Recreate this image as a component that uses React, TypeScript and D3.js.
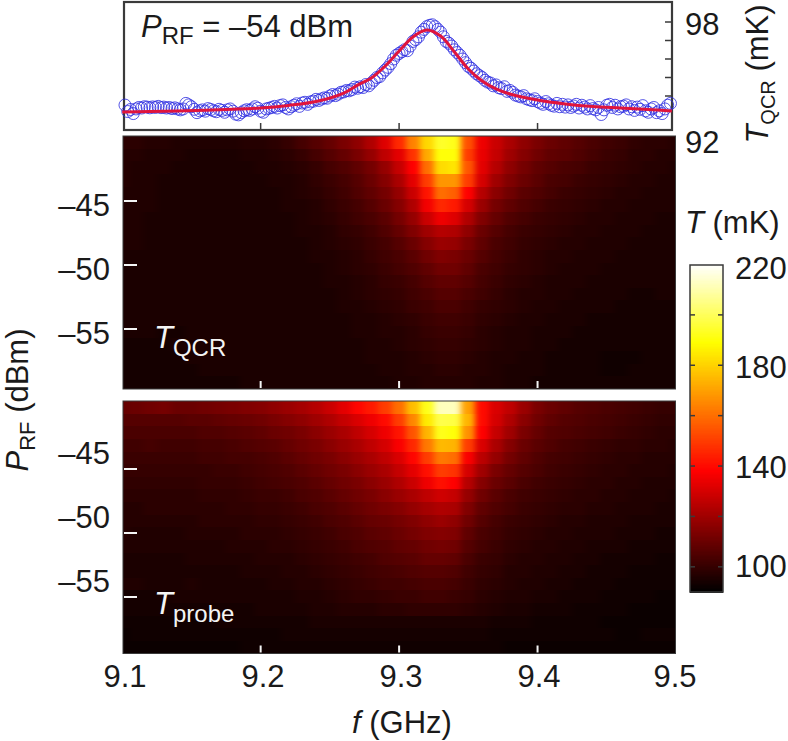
import * as d3 from "d3";

// frequency axis
const freqTicks = [9.1, 9.2, 9.3, 9.4, 9.5];
const freqLabelX = [125, 263, 401, 539, 675];
const heatFreqs = d3.range(0, 41).map((i) => 9.1 + i * 0.01);
const powers = d3.range(0, 20).map((i) => -40 - i);
const powerTicks = [-45, -50, -55];

// top panel, mK
const pointT = [
    93.51, 93.16, 93.27, 93.05, 93.3, 93.38, 93.35, 93.42, 93.4, 93.36,
    93.41, 93.38, 93.44, 93.37, 93.4, 93.35, 93.38, 93.32, 93.36, 93.3,
    93.25, 93.3, 93.6, 93.52, 93.42, 93.28, 93.1, 93.2, 93.25, 93.18,
    93.32, 93.27, 93.2, 93.15, 93.28, 93.22, 93.12, 93.25, 93.3, 93.18,
    93.02, 92.98, 93.1, 93.2, 93.26, 93.22, 93.3, 93.42, 93.34, 93.18,
    93.12, 93.3, 93.34, 93.38, 93.44, 93.35, 93.48, 93.52, 93.38, 93.3,
    93.42, 93.5, 93.58, 93.44, 93.62, 93.66, 93.55, 93.68, 93.72, 93.82,
    93.76, 93.84, 93.9, 93.88, 94.0, 94.08, 94.02, 94.1, 94.2, 94.22,
    94.3, 94.28, 94.35, 94.48, 94.42, 94.5, 94.46, 94.62, 94.55, 94.7,
    94.85, 95.0, 95.05, 95.25, 95.4, 95.55, 95.75, 96.0, 96.2, 96.3,
    96.4, 96.5, 96.45, 96.7, 96.95, 97.05, 97.2, 97.45, 97.6, 97.75,
    97.82, 97.85, 97.75, 97.6, 97.45, 97.2, 96.95, 96.85, 96.7, 96.5,
    96.35, 96.2, 96.0, 95.8, 95.6, 95.5, 95.35, 95.2, 95.1, 95.0,
    94.85, 94.75, 94.7, 94.55, 94.6, 94.45, 94.4, 94.5, 94.25, 94.3,
    94.2, 94.05, 94.0, 93.95, 94.02, 93.85, 93.8, 93.75, 93.85, 93.7,
    93.62, 93.55, 93.7, 93.58, 93.5, 93.45, 93.6, 93.42, 93.55, 93.4,
    93.52, 93.38, 93.46, 93.55, 93.35, 93.5, 93.4, 93.3, 93.48, 93.32,
    93.25, 93.38, 93.0, 93.25, 93.5, 93.55, 93.38, 93.5, 93.3, 93.42,
    93.45, 93.52, 93.3, 93.42, 93.22, 93.4, 93.28, 93.48, 93.2, 93.12,
    93.3, 93.38, 93.1, 93.2, 93.05, 93.3, 93.5, 93.6,
];
const fitF = [
    9.1, 9.12, 9.14, 9.16, 9.18, 9.2, 9.22, 9.24, 9.26, 9.27, 9.28, 9.29, 9.3,
    9.31, 9.32, 9.33, 9.34, 9.35, 9.36, 9.37, 9.38, 9.4, 9.42, 9.44, 9.46, 9.48, 9.497,
];
const fitT = [
    93.14, 93.16, 93.19, 93.23, 93.28, 93.35, 93.49, 93.7, 94.16, 94.59, 94.97, 95.62, 96.43,
    97.19, 97.57, 97.24, 96.38, 95.46, 94.81, 94.38, 94.11, 93.78, 93.57, 93.43, 93.35, 93.27, 93.19,
];

// T map, QCR, one row per dBm step
const qcrRows = [
    [98,98,97,97,96,96,96,96,96,97,97,98,100,103,106,109,113,117,123,132,146,164,181,194,192,154,135,128,122,117,113,110,108,106,104,102,101,99,98,98,97],
    [97,97,96,96,96,95,95,95,95,96,96,97,98,100,103,106,109,113,118,126,133,148,172,190,190,150,134,127,120,115,111,108,107,105,103,101,100,98,98,97,97],
    [97,96,96,96,95,95,95,95,95,95,96,96,97,98,100,103,105,108,112,118,127,138,160,182,184,155,133,124,117,112,108,106,104,103,101,100,99,98,97,97,96],
    [97,96,96,95,95,95,95,95,95,95,95,96,96,97,99,101,103,106,110,115,122,133,150,168,168,150,130,120,114,110,107,104,103,101,100,99,98,97,97,96,96],
    [96,96,96,95,95,95,95,95,95,95,95,95,96,97,98,100,102,105,108,112,118,128,142,160,157,138,124,116,111,107,105,103,101,100,99,98,97,97,96,96,96],
    [96,96,96,95,95,95,95,95,95,95,95,95,96,96,97,99,101,103,106,110,115,123,136,146,143,130,119,112,108,105,103,101,100,99,98,97,97,96,96,96,96],
    [96,96,95,95,95,95,95,95,95,95,95,95,95,96,97,98,100,102,104,107,112,118,128,135,132,123,114,109,105,103,101,100,99,98,97,97,96,96,96,95,95],
    [96,96,95,95,95,95,95,95,95,95,95,95,95,96,96,97,99,100,102,105,109,114,120,124,123,117,110,106,103,101,100,99,98,97,97,96,96,96,95,95,95],
    [96,96,95,95,95,95,95,95,95,95,95,95,95,95,96,97,98,99,101,103,106,110,115,119,118,113,108,104,102,100,99,98,97,97,96,96,96,95,95,95,95],
    [95,95,95,95,95,95,95,95,95,95,95,95,95,95,96,96,97,98,100,102,104,107,111,114,113,110,106,103,101,99,98,97,97,96,96,96,95,95,95,95,95],
    [95,95,95,95,95,95,95,95,95,95,95,95,95,95,95,96,97,98,99,101,103,105,108,111,111,108,104,102,100,99,98,97,96,96,96,95,95,95,95,95,95],
    [95,95,95,95,95,95,95,95,95,95,95,95,95,95,95,96,96,97,98,100,101,103,106,108,108,106,103,101,99,98,97,96,96,96,95,95,95,95,95,95,95],
    [95,95,95,95,95,95,95,95,95,95,95,95,95,95,95,95,96,97,98,99,100,102,104,106,106,104,102,100,98,97,97,96,96,95,95,95,95,94,94,95,95],
    [95,95,95,95,95,95,95,95,95,95,95,95,95,95,95,95,96,96,97,98,99,101,102,104,104,102,100,99,98,97,96,96,95,95,95,95,94,94,94,94,94],
    [95,95,95,95,95,95,95,95,95,95,95,95,95,95,95,95,95,96,96,97,98,99,101,102,102,101,99,98,97,96,96,95,95,95,94,94,94,94,94,94,94],
    [95,95,95,94,94,95,95,95,95,95,95,95,95,95,95,95,95,96,96,97,97,98,100,101,101,100,98,97,96,96,95,95,95,94,94,94,94,94,94,94,94],
    [94,94,94,94,95,95,95,95,95,95,95,95,95,95,95,95,95,95,96,96,97,98,99,100,100,99,98,97,96,96,95,95,94,94,94,94,94,94,94,94,94],
    [94,94,94,94,94,95,95,95,95,95,95,95,95,95,95,95,95,95,96,96,96,97,98,99,99,98,97,96,96,95,95,94,94,94,94,93,93,93,94,94,94],
    [94,94,94,94,94,94,95,95,95,95,95,95,95,95,95,95,95,95,95,96,96,97,97,98,98,97,97,96,95,95,95,94,94,94,94,93,93,94,94,94,94],
    [94,94,94,94,94,94,94,94,94,95,95,95,95,95,95,95,95,95,95,95,96,96,97,97,97,97,96,96,95,95,94,94,94,94,94,94,94,94,94,94,94],
];

// T map, probe
const probeRows = [
    [109,110,111,112,110,110,111,112,113,114,115,117,119,121,124,128,133,139,143,150,160,176,192,212,212,170,140,131,126,119,113,110,108,106,105,104,103,102,101,100,100],
    [106,106,106,106,106,107,107,108,109,110,111,113,115,117,120,123,127,131,135,140,150,165,185,198,197,174,140,130,123,116,111,108,106,105,104,103,102,101,100,99,99],
    [104,104,104,104,104,104,105,105,106,107,108,110,111,113,116,119,122,126,130,135,142,155,174,192,190,167,138,127,120,113,109,106,105,104,103,102,101,100,99,98,98],
    [102,102,103,102,102,102,103,103,104,105,106,107,109,111,113,116,119,122,126,130,137,146,162,175,174,150,131,122,115,110,107,105,103,102,101,100,99,99,98,98,97],
    [101,101,101,101,101,101,102,102,103,103,104,105,107,109,111,113,116,119,122,126,131,139,150,162,160,137,125,118,112,108,105,103,102,101,100,99,98,98,97,97,97],
    [100,100,100,100,100,100,100,101,101,102,103,104,105,107,109,111,113,116,119,122,127,133,141,150,148,130,120,113,109,106,104,102,101,100,99,98,98,97,97,97,96],
    [99,99,99,99,99,99,100,100,100,101,102,103,104,105,107,109,111,113,116,119,123,128,135,141,138,124,115,110,107,104,102,101,100,99,98,98,97,97,96,96,96],
    [98,98,98,98,98,98,99,99,99,100,101,101,102,104,105,107,109,111,113,116,119,122,126,129,127,118,111,107,104,102,101,100,99,98,98,97,97,96,96,96,95],
    [97,97,98,98,98,98,98,98,99,99,100,100,101,102,104,105,107,109,111,113,115,118,121,123,122,114,108,105,103,101,100,99,98,98,97,97,96,96,96,95,95],
    [97,97,97,97,97,97,98,98,98,98,99,99,100,101,102,104,105,107,109,110,112,114,117,119,117,111,106,103,101,100,99,98,97,97,96,96,96,95,95,95,95],
    [97,96,96,96,96,97,97,97,97,98,98,98,99,100,101,102,104,105,107,108,110,112,114,115,114,108,104,102,100,99,98,97,97,96,96,96,95,95,95,94,94],
    [96,96,96,96,96,96,96,96,97,97,97,98,98,99,100,101,102,104,105,106,108,109,111,112,111,106,103,101,99,98,97,97,96,96,95,95,95,94,94,94,94],
    [95,95,95,95,95,96,96,96,96,96,97,97,97,98,99,100,101,102,103,105,106,107,109,109,108,104,101,100,98,97,97,96,96,95,95,94,94,94,94,93,93],
    [95,95,95,95,95,95,95,95,95,96,96,96,97,97,98,99,100,101,102,103,104,105,106,106,105,102,100,99,97,97,96,96,95,95,94,94,94,93,93,93,93],
    [96,96,95,95,95,96,95,95,95,95,95,96,96,97,97,98,99,100,101,102,102,103,104,104,103,101,99,98,97,96,96,95,95,94,94,94,93,93,93,93,93],
    [94,94,94,94,95,95,95,95,95,95,95,95,95,96,96,97,98,99,99,100,101,101,102,102,101,100,98,97,96,96,95,95,94,94,94,93,93,93,93,92,92],
    [94,94,94,94,94,94,94,94,94,94,95,95,95,95,96,96,97,97,97,98,98,99,99,99,99,98,97,96,95,95,94,94,94,93,93,93,93,92,92,92,92],
    [93,93,93,93,93,93,93,94,94,94,94,94,94,94,95,95,95,95,95,95,95,95,95,95,95,95,95,94,94,94,93,93,93,93,93,92,92,92,92,92,92],
    [92,93,93,93,93,93,93,93,93,93,93,93,94,94,94,94,94,94,94,94,94,94,94,94,94,94,94,93,93,93,93,93,93,93,93,93,92,92,93,93,93],
    [92,92,92,92,92,92,92,92,92,93,93,93,93,93,93,93,93,93,93,93,93,93,93,93,93,93,93,93,92,92,92,92,92,92,92,92,92,92,92,92,92],
];

// colour bar
const colorTicks = [100, 120, 140, 160, 180, 200];
const colorLabels = [100, 140, 180, 220];
const colorStops = [90, 138, 189, 220];
const colorValues = ["#000000", "#ff0000", "#ffff00", "#ffffff"];

const FONT = "'Liberation Sans', Arial, sans-serif";
const INK = "#1a1a1a";
const FRAME = "#3a3a3a";
const SIZE = 31;
const SUB = 22;

const x = d3.scaleLinear().domain([9.1, 9.5]).range([122.2, 676]);
const yTop = d3.scaleLinear().domain([92, 98]).range([133, 22]);
const color = d3.scaleLinear<string>().domain(colorStops).range(colorValues).clamp(true);
const barY = d3.scaleLinear().domain([90, 220]).range([592, 264.5]);
const barLabelY = d3.scaleLinear().domain([100, 220]).range([577, 279]);

const fitLine = d3
    .line<number>()
    .x((_, i) => x(fitF[i]))
    .y((d) => yTop(d))
    .curve(d3.curveCatmullRom);

const HeatPanel = ({ id, rows, top, bottom, tickY, labelDy }) => {
    const rowBand = d3.scaleBand<number>().domain(powers).range([top, bottom]);
    const cellW = x(9.11) - x(9.1);
    return (
        <g>
            <clipPath id={id}>
                <rect x={123} y={top} width={552.5} height={bottom - top} />
            </clipPath>
            <g clipPath={`url(#${id})`}>
                <g filter="url(#smear)" shapeRendering="crispEdges">
                    {rows.map((row, r) =>
                        row.map((t, c) => {
                            const pad = r === 0 || r === rows.length - 1 ? 4 : 0;
                            return (
                                <rect
                                    key={`${r}-${c}`}
                                    x={x(heatFreqs[c]) - cellW / 2}
                                    y={rowBand(powers[r]) - (r === 0 ? pad : 0)}
                                    width={cellW + 0.5}
                                    height={rowBand.bandwidth() + 0.5 + pad}
                                    fill={color(t)}
                                />
                            );
                        })
                    )}
                </g>
            </g>
            <rect x={123} y={top} width={552.5} height={bottom - top} fill="none" stroke={FRAME} strokeWidth={1} />
            {powerTicks.map((p) => (
                <line key={p} x1={124} x2={137} y1={tickY(p)} y2={tickY(p)} stroke="#f4f4f4" strokeWidth={2} />
            ))}
            {freqTicks.slice(1, 4).map((f) => (
                <line key={f} x1={x(f)} x2={x(f)} y1={bottom - 8} y2={bottom - 1} stroke="#f4f4f4" strokeWidth={2} />
            ))}
            {powerTicks.map((p) => (
                <text key={p} x={110} y={tickY(p) + labelDy} textAnchor="end" fontSize={SIZE} fill={INK}>
                    {`–${Math.abs(p)}`}
                </text>
            ))}
        </g>
    );
};

const App = () => {
    const yHeat1 = d3.scaleLinear().domain([-40, -60]).range([137, 393]);
    const yHeat2 = d3.scaleLinear().domain([-40, -60]).range([405, 661]);

    return (
        <svg
            width={788}
            height={741}
            style={{ position: "absolute", left: 0, top: 0, background: "#fff" }}
            fontFamily={FONT}
        >
            <defs>
                <filter
                    id="smear"
                    filterUnits="userSpaceOnUse"
                    x={90}
                    y={120}
                    width={620}
                    height={560}
                    colorInterpolationFilters="sRGB"
                >
                    <feGaussianBlur stdDeviation="3.2 0.5" />
                </filter>
            </defs>

            {/* top panel */}
            <rect x={124} y={2} width={548} height={128} fill="none" stroke={FRAME} strokeWidth={2.2} />
            {freqTicks.slice(1, 4).map((f) => (
                <line key={f} x1={x(f)} x2={x(f)} y1={123} y2={130} stroke={FRAME} strokeWidth={1.5} />
            ))}
            {[94, 95, 96, 97, 98].map((t) => (
                <line key={t} x1={665} x2={672} y1={yTop(t)} y2={yTop(t)} stroke={FRAME} strokeWidth={1.5} />
            ))}
            {pointT.map((t, i) => (
                <circle
                    key={i}
                    cx={x(9.102 + i * 0.002)}
                    cy={yTop(t)}
                    r={6}
                    fill="none"
                    stroke="#2a2ae0"
                    strokeWidth={0.8}
                />
            ))}
            <path d={fitLine(fitT) ?? ""} fill="none" stroke="#e0143c" strokeWidth={3} />
            <text x={141} y={37} fontSize={SIZE} fill={INK}>
                <tspan fontStyle="italic">P</tspan>
                <tspan fontSize={SUB + 2} dy={7}>RF</tspan>
                <tspan dy={-7}> = –54 dBm</tspan>
            </text>
            <text x={685} y={35} fontSize={SIZE} fill={INK}>98</text>
            <text x={685} y={153} fontSize={SIZE} fill={INK}>92</text>
            <text transform="translate(768,74) rotate(-90)" textAnchor="middle" fontSize={SIZE} fill={INK}>
                <tspan fontStyle="italic">T</tspan>
                <tspan fontSize={20} dy={7}>QCR</tspan>
                <tspan dy={-7}> (mK)</tspan>
            </text>

            {/* maps */}
            <HeatPanel id="clip-qcr" rows={qcrRows} top={136} bottom={389} tickY={yHeat1} labelDy={15} />
            <HeatPanel id="clip-probe" rows={probeRows} top={401} bottom={653.5} tickY={yHeat2} labelDy={-5} />
            <text x={154} y={348} fontSize={SIZE} fill="#f4f4f4">
                <tspan fontStyle="italic">T</tspan>
                <tspan fontSize={24} dy={8}>QCR</tspan>
            </text>
            <text x={154} y={614} fontSize={SIZE} fill="#f4f4f4">
                <tspan fontStyle="italic">T</tspan>
                <tspan fontSize={24} dy={8}>probe</tspan>
            </text>

            {/* axes text */}
            {freqTicks.map((f, i) => (
                <text key={f} x={freqLabelX[i]} y={687} textAnchor="middle" fontSize={SIZE} fill={INK}>
                    {f.toFixed(1)}
                </text>
            ))}
            <text x={402} y={733} textAnchor="middle" fontSize={SIZE} fill={INK}>
                <tspan fontStyle="italic">f</tspan>
                <tspan> (GHz)</tspan>
            </text>
            <text transform="translate(28,400) rotate(-90)" textAnchor="middle" fontSize={SIZE} fill={INK}>
                <tspan fontStyle="italic">P</tspan>
                <tspan fontSize={SUB} dy={7}>RF</tspan>
                <tspan dy={-7}> (dBm)</tspan>
            </text>

            {/* colour bar */}
            <g shapeRendering="crispEdges">
                {d3.range(90, 220, 0.5).map((t) => (
                    <rect key={t} x={690} width={33} y={barY(t + 0.5)} height={barY(t) - barY(t + 0.5) + 0.6} fill={color(t)} />
                ))}
            </g>
            <rect x={690} y={265} width={33} height={327} fill="none" stroke={FRAME} strokeWidth={1.5} />
            {colorTicks.map((t) => (
                <g key={t} stroke={FRAME} strokeWidth={1.5}>
                    <line x1={690} x2={695} y1={barY(t)} y2={barY(t)} />
                    <line x1={718} x2={723} y1={barY(t)} y2={barY(t)} />
                </g>
            ))}
            {colorLabels.map((t) => (
                <text key={t} x={735} y={barLabelY(t)} fontSize={SIZE} fill={INK}>
                    {t}
                </text>
            ))}
            <text x={685} y={233} fontSize={SIZE} fill={INK}>
                <tspan fontStyle="italic">T</tspan>
                <tspan> (mK)</tspan>
            </text>
        </svg>
    );
};

export default App;
